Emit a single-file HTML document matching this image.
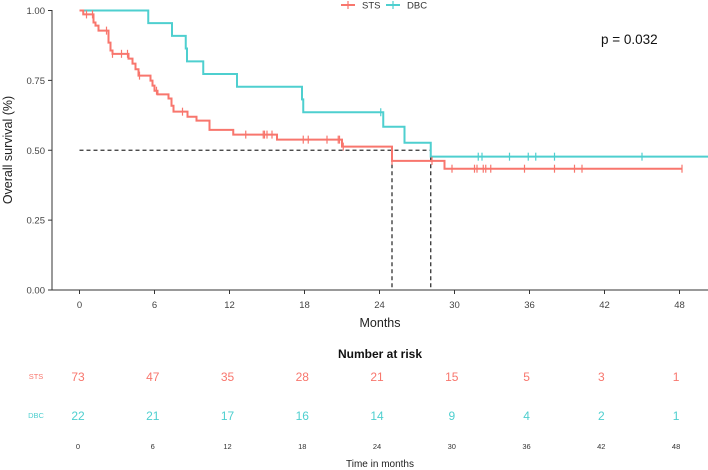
<!DOCTYPE html>
<html><head><meta charset="utf-8"><style>
html,body{margin:0;padding:0;background:#fff;}
svg{display:block;font-family:"Liberation Sans",Arial,sans-serif;}
</style></head><body>
<svg id="chart" width="708" height="470" viewBox="0 0 708 470" xmlns="http://www.w3.org/2000/svg">
<g id="axes"></g><g id="plot"></g><g id="risk"></g>
</svg>
<script>
const xTicks = [0, 6, 12, 18, 24, 30, 36, 42, 48];
const yTicks = [0, 0.25, 0.5, 0.75, 1.0];
const yTickLabels = ["0.00", "0.25", "0.50", "0.75", "1.00"];
const stsTimes = [0.3, 1.12, 1.28, 1.52, 2.32, 2.48, 2.64, 3.92, 4.24, 4.48, 4.72, 5.68, 5.84, 6.0, 6.24, 7.12, 7.36, 7.52, 8.64, 9.36, 10.4, 12.3, 15.8, 21.0, 25.0, 29.2];
const stsSurv  = [0.986, 0.957, 0.946, 0.928, 0.885, 0.857, 0.845, 0.828, 0.81, 0.79, 0.767, 0.749, 0.731, 0.713, 0.70, 0.685, 0.659, 0.638, 0.62, 0.606, 0.573, 0.556, 0.538, 0.513, 0.462, 0.434];
const stsCensor = [0.56, 1.04, 2.16, 2.64, 3.36, 3.84, 4.8, 6.16, 8.24, 13.3, 14.7, 14.8, 15.0, 15.4, 17.9, 18.3, 19.8, 20.7, 20.8, 21.1, 25.0, 28.2, 29.8, 31.6, 31.8, 32.3, 32.5, 32.9, 35.6, 38.0, 39.6, 40.2, 48.2];
const dbcTimes = [5.5, 7.4, 8.5, 8.6, 9.9, 12.6, 17.8, 17.9, 24.3, 26.0, 28.1];
const dbcSurv  = [0.955, 0.909, 0.864, 0.818, 0.773, 0.727, 0.682, 0.636, 0.584, 0.527, 0.477];
const dbcCensor = [24.1, 31.9, 32.2, 34.4, 35.9, 36.5, 38.0, 45.0];
const dbcEnd = 51;
const stsEnd = 48.2;
const medians = [25.0, 28.1];
const riskTimes = [0, 6, 12, 18, 24, 30, 36, 42, 48];
const riskSTS = [73, 47, 35, 28, 21, 15, 5, 3, 1];
const riskDBC = [22, 21, 17, 16, 14, 9, 4, 2, 1];

const RED = "#f8766d", TEAL = "#4ecfcf";
const X = t => 79.5 + t * 12.5;
const Y = s => 290 - s * 279.5;
const RX = t => 78 + t * 12.46;
const NS = "http://www.w3.org/2000/svg";
function mk(tag, attrs, parent, text) {
  const e = document.createElementNS(NS, tag);
  for (const k in attrs) e.setAttribute(k, attrs[k]);
  if (text !== undefined) e.textContent = text;
  parent.appendChild(e);
  return e;
}
const axes = document.getElementById('axes');
const plot = document.getElementById('plot');
const risk = document.getElementById('risk');

// axes
let yl = mk('line', {x1: 52, y1: 10, x2: 52, y2: 290, stroke: '#333', 'stroke-width': 1}, axes);


let xl = mk('line', {x1: 52, y1: 290, x2: 708, y2: 290, stroke: '#333', 'stroke-width': 1}, axes);


yTicks.forEach((v, i) => {
  mk('line', {x1: 48, x2: 52, y1: Y(v), y2: Y(v), stroke: '#333'}, axes);
  let t = mk('text', {x: 45, y: Y(v) + 3.5, 'text-anchor': 'end', 'font-size': 9.5, fill: '#444'}, axes, yTickLabels[i]);
  
  
});
xTicks.forEach(v => {
  mk('line', {x1: X(v), x2: X(v), y1: 290, y2: 294, stroke: '#333'}, axes);
  let t = mk('text', {x: X(v), y: 308, 'text-anchor': 'middle', 'font-size': 9.5, fill: '#444'}, axes, v);
  
  
});
let yt = mk('text', {x: 12, y: 150, 'text-anchor': 'middle', 'font-size': 12.5, fill: '#222', transform: 'rotate(-90 12 150)'}, axes, 'Overall survival (%)');


let xt = mk('text', {x: 380, y: 327, 'text-anchor': 'middle', 'font-size': 12.5, fill: '#222'}, axes, 'Months');



// median lines
let mh = mk('line', {x1: X(0), x2: X(Math.max(...medians)), y1: Y(0.5), y2: Y(0.5), stroke: '#333', 'stroke-dasharray': '4,3', 'stroke-width': 1.2}, plot);


medians.forEach(m => {
  let l = mk('line', {x1: X(m), x2: X(m), y1: Y(0.5), y2: Y(0), stroke: '#222', 'stroke-dasharray': '4,3', 'stroke-width': 1.2}, plot);
  
  
});

function survAt(times, surv, t) {
  let s = 1;
  for (let i = 0; i < times.length; i++) if (times[i] <= t) s = surv[i];
  return s;
}
function drawCurve(times, surv, end, censor, color, name) {
  let d = `M${X(0)},${Y(1)}`;
  let prev = 1;
  times.forEach((t, i) => { d += ` H${X(t)} V${Y(surv[i])}`; prev = surv[i]; });
  d += ` H${X(end)}`;
  let p = mk('path', {d: d, fill: 'none', stroke: color, 'stroke-width': 2}, plot);
  
  
  censor.forEach(c => {
    const y = Y(survAt(times, surv, c));
    let m = mk('line', {x1: X(c), x2: X(c), y1: y - 4, y2: y + 4, stroke: color, 'stroke-width': 1.2}, plot);
    
    
  });
}
drawCurve(dbcTimes, dbcSurv, dbcEnd, dbcCensor, TEAL, 'dbc');
drawCurve(stsTimes, stsSurv, stsEnd, stsCensor, RED, 'sts');

// legend
function legend(x, color, label, name) {
  const g = mk('g', {}, plot);
  
  
  mk('line', {x1: x, x2: x + 14, y1: 5, y2: 5, stroke: color, 'stroke-width': 2}, g);
  mk('line', {x1: x + 7, x2: x + 7, y1: 1, y2: 9, stroke: color, 'stroke-width': 1.2}, g);
  mk('text', {x: x + 21, y: 8.5, 'font-size': 9.5, fill: '#333'}, g, label);
}
legend(341, RED, 'STS', 'legend-entry-sts');
legend(386, TEAL, 'DBC', 'legend-entry-dbc');
let pv = mk('text', {x: 601, y: 44, 'font-size': 13.5, fill: '#111'}, plot, 'p = 0.032');



// risk table
let rt = mk('text', {x: 380, y: 358, 'text-anchor': 'middle', 'font-size': 12, 'font-weight': 'bold', fill: '#111'}, risk, 'Number at risk');


let ls = mk('text', {x: 36, y: 379, 'text-anchor': 'middle', 'font-size': 7.5, fill: RED}, risk, 'STS');


let ld = mk('text', {x: 36, y: 418, 'text-anchor': 'middle', 'font-size': 7.5, fill: TEAL}, risk, 'DBC');


riskTimes.forEach((t, i) => {
  let a = mk('text', {x: RX(t), y: 381, 'text-anchor': 'middle', 'font-size': 12, fill: RED}, risk, riskSTS[i]);
  
  
  let b = mk('text', {x: RX(t), y: 420, 'text-anchor': 'middle', 'font-size': 12, fill: TEAL}, risk, riskDBC[i]);
  
  
  let c = mk('text', {x: RX(t), y: 449, 'text-anchor': 'middle', 'font-size': 7.5, fill: '#333'}, risk, t);
  
  
});
let tt = mk('text', {x: 380, y: 467, 'text-anchor': 'middle', 'font-size': 10, fill: '#222'}, risk, 'Time in months');


</script>
</body></html>
